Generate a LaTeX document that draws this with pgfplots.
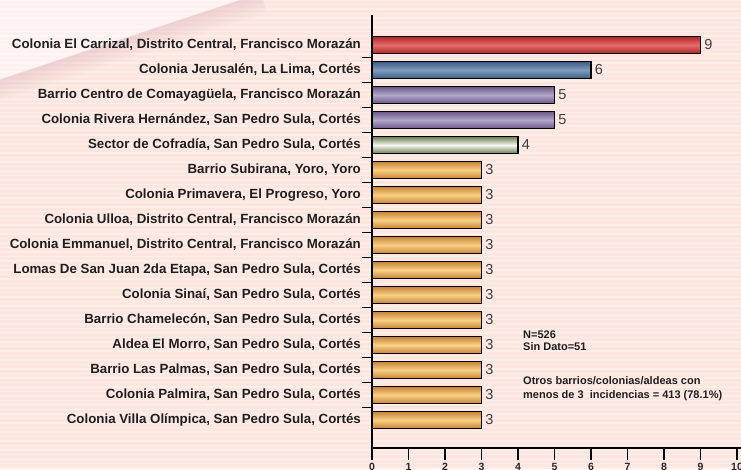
\documentclass[border=0pt]{standalone}
\usepackage{pgfplots}
\pgfplotsset{compat=1.18}
\usepackage{fontspec}
\setmainfont{Liberation Sans}
\definecolor{bgpink}{HTML}{FCE6DF}
\definecolor{shadowc}{RGB}{214,168,178}
\definecolor{redE}{HTML}{B02828}\definecolor{redM}{HTML}{E66C6C}
\definecolor{bluE}{HTML}{3E5E85}\definecolor{bluM}{HTML}{7E9CBE}
\definecolor{purE}{HTML}{6C5C88}\definecolor{purM}{HTML}{B2A6CA}
\definecolor{grnE}{HTML}{6F7F55}\definecolor{grnM}{HTML}{F7F9F0}
\definecolor{orgE}{HTML}{C8863A}\definecolor{orgM}{HTML}{F9D085}
\pgfplotsset{mybar/.style={xbar, bar width=16.5pt, bar shift=0pt, draw=black, line width=1.3pt,
  nodes near coords, point meta=x,
  nodes near coords style={font=\fontsize{14.5}{16}\selectfont, text=black!75, anchor=west}},
  red bar/.style={mybar, top color=redE, bottom color=redE, middle color=redM},
  blue bar/.style={mybar, top color=bluE, bottom color=bluE, middle color=bluM},
  purple bar/.style={mybar, top color=purE, bottom color=purE, middle color=purM},
  green bar/.style={mybar, top color=grnE, bottom color=grnE, middle color=grnM},
  orange bar/.style={mybar, top color=orgE, bottom color=orgE, middle color=orgM}}
\begin{document}
\begin{tikzpicture}
\useasboundingbox (0pt,0pt) rectangle (741pt,-469pt);
\begin{scope}[x=1pt,y=1pt]
\clip (0,0) rectangle (741,-469);
\fill[bgpink] (0,0) rectangle (741,-469);
\foreach \i in {0,...,105} {\draw[white,opacity=0.35,line width=1.6pt] (0,-\i*4.5) -- (741,-\i*4.5);}
\fill[white,opacity=0.5] (0,0) -- (242,0) -- (0,-80) -- cycle;
\foreach \k in {0,...,14} {
  \pgfmathsetmacro\dx{0.314*\k*1.4}
  \pgfmathsetmacro\dy{-0.949*\k*1.4}
  \pgfmathsetmacro\op{0.34*(1-\k/15)}
  \draw[shadowc,opacity=\op,line width=1.5pt] ([shift={(\dx,\dy)}]261,6.3) -- ([shift={(\dx,\dy)}]-19,-86.3);
}
\end{scope}
\begin{axis}[
  at={(372pt,-15pt)}, anchor=north west,
  scale only axis, width=365pt, height=433pt,
  xmin=0, xmax=10, ymin=-0.12, ymax=17.2,
  clip=false,
  axis x line=bottom, axis y line=left,
  axis line style={-, line width=1.4pt, black},
  every outer x axis line/.append style={-, shorten >=-4pt},
  every outer y axis line/.append style={-},
  tick align=outside, major tick length=12pt, minor tick length=10pt,
  xtick={0,...,10},
  /pgf/number format/assume math mode=true,
  xticklabel style={font=\bfseries\fontsize{10.5}{12}\selectfont, text=black!85},
  every major x tick/.append style={line width=1.4pt, black},
  ytick={1,...,16},
  minor ytick={1.5,2.5,...,15.5},
  every major y tick/.append style={draw=none},
  every minor y tick/.append style={line width=1.4pt, black},
  yticklabel style={font=\bfseries\fontsize{13.3}{15}\selectfont, text=black!88, inner sep=0pt, xshift=1pt},
  yticklabels={
    {Colonia Villa Olímpica, San Pedro Sula, Cortés},
    {Colonia Palmira, San Pedro Sula, Cortés},
    {Barrio Las Palmas, San Pedro Sula, Cortés},
    {Aldea El Morro, San Pedro Sula, Cortés},
    {Barrio Chamelecón, San Pedro Sula, Cortés},
    {Colonia Sinaí, San Pedro Sula, Cortés},
    {Lomas De San Juan 2da Etapa, San Pedro Sula, Cortés},
    {Colonia Emmanuel, Distrito Central, Francisco Morazán},
    {Colonia Ulloa, Distrito Central, Francisco Morazán},
    {Colonia Primavera, El Progreso, Yoro},
    {Barrio Subirana, Yoro, Yoro},
    {Sector de Cofradía, San Pedro Sula, Cortés},
    {Colonia Rivera Hernández, San Pedro Sula, Cortés},
    {Barrio Centro de Comayagüela, Francisco Morazán},
    {Colonia Jerusalén, La Lima, Cortés},
    {Colonia El Carrizal, Distrito Central, Francisco Morazán}},
]
\addplot[red bar] coordinates {(9,16)};
\addplot[blue bar] coordinates {(6,15)};
\addplot[purple bar] coordinates {(5,14)};
\addplot[purple bar] coordinates {(5,13)};
\addplot[green bar] coordinates {(4,12)};
\addplot[orange bar] coordinates {(3,11)};
\addplot[orange bar] coordinates {(3,10)};
\addplot[orange bar] coordinates {(3,9)};
\addplot[orange bar] coordinates {(3,8)};
\addplot[orange bar] coordinates {(3,7)};
\addplot[orange bar] coordinates {(3,6)};
\addplot[orange bar] coordinates {(3,5)};
\addplot[orange bar] coordinates {(3,4)};
\addplot[orange bar] coordinates {(3,3)};
\addplot[orange bar] coordinates {(3,2)};
\addplot[orange bar] coordinates {(3,1)};
\end{axis}
\begin{scope}[x=1pt,y=1pt,every node/.style={anchor=base west, inner sep=0pt, font=\bfseries\fontsize{11}{13}\selectfont, text=black!88}]
\node at (523,-338) {N=526};
\node at (523,-350.5) {Sin Dato=51};
\node at (523,-384) {Otros barrios/colonias/aldeas con};
\node at (523,-398) {menos de 3\ \ incidencias = 413 (78.1\%)};
\end{scope}
\end{tikzpicture}
\end{document}
